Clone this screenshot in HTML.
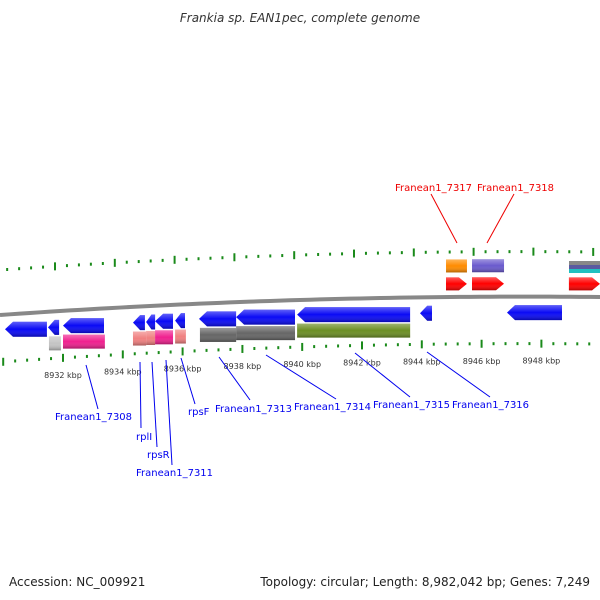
<!DOCTYPE html>
<html><head><meta charset="utf-8"><style>
body{margin:0;background:#fff;}
svg{display:block;font-family:"DejaVu Sans","Liberation Sans",sans-serif;}
</style></head><body>
<svg id="chart" width="600" height="600" viewBox="0 0 600 600">
<defs>
<linearGradient id="shade" x1="0" y1="0" x2="0" y2="1">
<stop offset="0" stop-color="#fff" stop-opacity="0.35"/><stop offset="0.5" stop-color="#fff" stop-opacity="0"/><stop offset="1" stop-color="#000" stop-opacity="0.3"/>
</linearGradient>
</defs>
<text x="300" y="22" text-anchor="middle" font-size="12" font-style="italic" fill="#333">Frankia sp. EAN1pec, complete genome</text>
<g id="ticks"></g>
<path id="backbone" fill="none" stroke="#888" stroke-width="4"/>
<g id="genes"></g>
<g id="labels"></g>
<text x="9" y="586" font-size="12" fill="#222">Accession: NC_009921</text>
<text x="590" y="586" text-anchor="end" font-size="12" fill="#222">Topology: circular; Length: 8,982,042 bp; Genes: 7,249</text>
</svg>
<script>
// axis ticks (kbp)
const tickLabels = [8932, 8934, 8936, 8938, 8940, 8942, 8944, 8946, 8948];
// reverse-strand arrows [startKbp, endKbp]
const revStart = [8930.06, 8931.50, 8932.00, 8934.34, 8934.78, 8935.08, 8935.75, 8936.55, 8937.79, 8939.83, 8943.94, 8946.85];
const revEnd   = [8931.46, 8931.87, 8933.37, 8934.74, 8935.08, 8935.68, 8936.08, 8937.79, 8939.76, 8943.61, 8944.34, 8948.69];
// reverse-strand feature boxes
const boxStart = [8931.53, 8932.00, 8934.34, 8934.78, 8935.08, 8935.75, 8936.58, 8937.79, 8939.83];
const boxEnd   = [8931.93, 8933.40, 8934.78, 8935.08, 8935.68, 8936.11, 8937.79, 8939.76, 8943.61];
const boxColor = ["#c4c4c4", "#f0208f", "#f08080", "#f08080", "#f0208f", "#f08080", "#666666", "#666666", "#6b8e23"];
// forward-strand
const fwdStart = [8944.81, 8945.68, 8948.92];
const fwdEnd   = [8945.51, 8946.75, 8949.96];
const topStart = [8944.81, 8945.68];
const topEnd   = [8945.51, 8946.75];
const topColor = ["#ff8c00", "#6a5acd"];

const NS = "http://www.w3.org/2000/svg";
function X(k){ return 63 + (k - 8932) * 29.9; }
function Y(x){ return 315 - 0.07 * x + 6.67e-5 * x * x; }
function mk(tag, attrs, parent){ const e = document.createElementNS(NS, tag); for (const k in attrs) e.setAttribute(k, attrs[k]); parent.appendChild(e); return e; }

let d = "";
for (let x = 0; x <= 600; x += 10) d += (x ? "L" : "M") + x + " " + Y(x).toFixed(2);
document.getElementById("backbone").setAttribute("d", d);

const tg = document.getElementById("ticks");
for (let i = 0; i <= 60; i++) {
  const k = 8929.6 + i * 0.4;
  const major = i % 5 === 1;
  const len = major ? 8 : 3;
  for (const [off, shift] of [[-45, -8], [47, 0]]) {
    const x = X(k) + shift;
    if (x < 0 || x > 600) continue;
    const l = mk("line", {x1: x, x2: x, y1: Y(x) + off - len / 2, y2: Y(x) + off + len / 2, stroke: "#1a8a1a", "stroke-width": 2}, tg);
    
    
  }
}
tickLabels.forEach(k => {
  const x = X(k);
  const t = mk("text", {x: x, y: Y(x) + 67, "text-anchor": "middle", "font-size": 8, fill: "#333"}, tg);
  t.textContent = k + " kbp";
  
  
});

const gg = document.getElementById("genes");
function arrow(x1, x2, off, h, dir, color, name) {
  const yc = Y((x1 + x2) / 2) + off, hw = h / 2, head = Math.min(8, (x2 - x1) * 0.6);
  let pts;
  if (dir < 0) pts = [[x1, yc], [x1 + head, yc - hw], [x2, yc - hw], [x2, yc + hw], [x1 + head, yc + hw]];
  else pts = [[x2, yc], [x2 - head, yc - hw], [x1, yc - hw], [x1, yc + hw], [x2 - head, yc + hw]];
  const p = pts.map(q => q[0].toFixed(1) + "," + q[1].toFixed(1)).join(" ");
  const a = mk("polygon", {points: p, fill: color}, gg);
  
  
  const s = mk("polygon", {points: p, fill: "url(#shade)"}, gg);
  
  
}
function box(x1, x2, off, h, color, name) {
  const yc = Y((x1 + x2) / 2) + off;
  const r = mk("rect", {x: x1, y: yc - h / 2, width: x2 - x1, height: h, fill: color}, gg);
  
  
  const s = mk("rect", {x: x1, y: yc - h / 2, width: x2 - x1, height: h, fill: "url(#shade)"}, gg);
  
  
}
revStart.forEach((s, i) => arrow(X(s), X(revEnd[i]), 16, 15, -1, "#0a0af5", "reverse-gene-arrow"));
boxStart.forEach((s, i) => box(X(s), X(boxEnd[i]), 32, 14, boxColor[i], "reverse-feature-box"));
fwdStart.forEach((s, i) => arrow(X(s), X(fwdEnd[i]), -13, 13, 1, "#ff0000", "forward-gene-arrow"));
topStart.forEach((s, i) => box(X(s), X(topEnd[i]), -31, 13, topColor[i], "forward-feature-box"));
[["#888", -36], ["#5a5aa0", -32], ["#20c0c0", -28]].forEach(c => {
  const r = mk("rect", {x: 569, y: 255 + c[1] + 6 + 36, width: 31, height: 4, fill: c[0]}, gg);
  
  
});

const lg = document.getElementById("labels");
const labels = [
  ["Franean1_7308", 55, 420, 86, 365, 98, 409, "#0000ee"],
  ["rplI", 136, 440, 140, 362, 141, 428, "#0000ee"],
  ["rpsR", 147, 458, 152, 362, 157, 447, "#0000ee"],
  ["Franean1_7311", 136, 476, 166, 360, 172, 465, "#0000ee"],
  ["rpsF", 188, 415, 181, 358, 195, 404, "#0000ee"],
  ["Franean1_7313", 215, 412, 219, 357, 250, 400, "#0000ee"],
  ["Franean1_7314", 294, 410, 266, 355, 336, 399, "#0000ee"],
  ["Franean1_7315", 373, 408, 355, 353, 410, 397, "#0000ee"],
  ["Franean1_7316", 452, 408, 427, 352, 490, 397, "#0000ee"],
  ["Franean1_7317", 395, 191, 457, 243, 431, 194, "#ee0000"],
  ["Franean1_7318", 477, 191, 487, 243, 514, 194, "#ee0000"]
];
labels.forEach(L => {
  const ln = mk("line", {x1: L[3], y1: L[4], x2: L[5], y2: L[6], stroke: L[7], "stroke-width": 1}, lg);
  
  
  const t = mk("text", {x: L[1], y: L[2], "font-size": 10, fill: L[7]}, lg);
  t.textContent = L[0];
  
  
});
</script>
</body></html>
